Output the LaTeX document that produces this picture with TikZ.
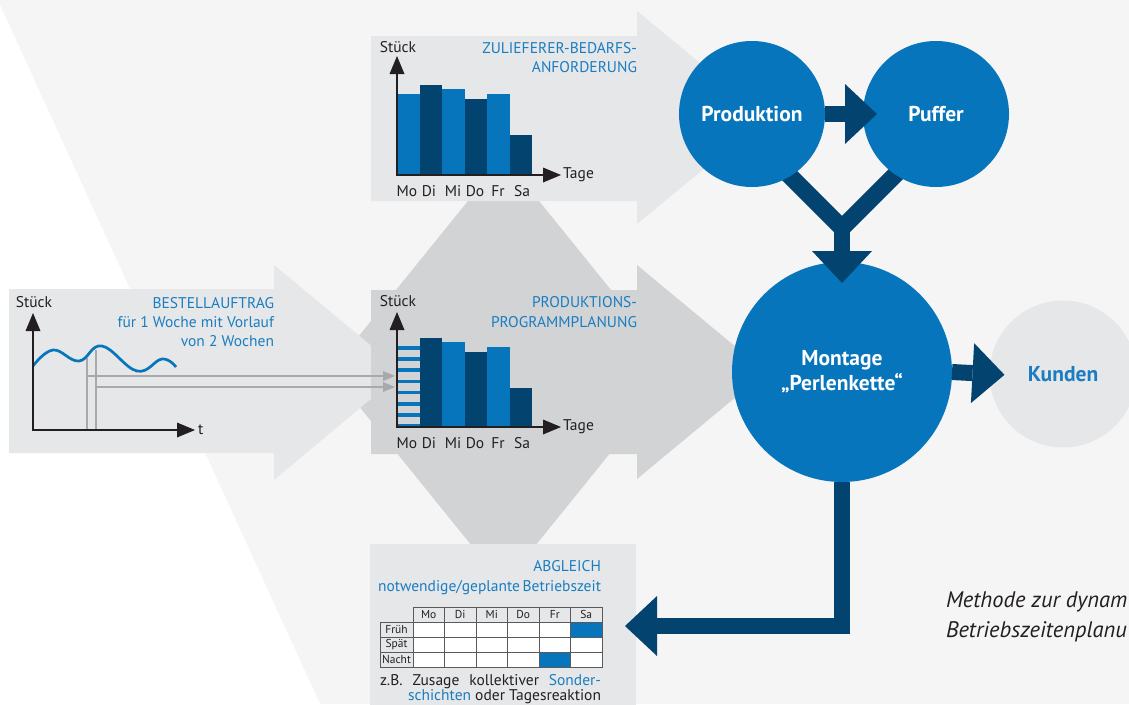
\documentclass[tikz,border=0pt]{standalone}
\usepackage{fontspec}
\setmainfont{PT Sans}
\usetikzlibrary{arrows.meta,calc}
\definecolor{bgc}{HTML}{F5F5F5}
\definecolor{lgray}{HTML}{E6E7E8}
\definecolor{mgray}{HTML}{D1D3D4}
\definecolor{cblue}{HTML}{0775BC}
\definecolor{cdark}{HTML}{03436F}
\definecolor{tblue}{HTML}{1A7DC2}
\definecolor{txt}{HTML}{231F20}
\definecolor{glc}{HTML}{A7A9AC}
\definecolor{tborder}{HTML}{595A5C}
\begin{document}
\begin{tikzpicture}[x=1pt,y=-1pt,
  every node/.style={inner sep=0pt,outer sep=0pt},
  lbl/.style={font=\fontsize{15.5}{17}\selectfont,text=txt},
  ttl/.style={font=\fontsize{15.5}{19}\selectfont,text=tblue,align=right,anchor=east},
  axisline/.style={draw=txt,line width=2.5pt,line join=miter,
    {Triangle[length=18pt,width=15pt,line width=0pt]}-{Triangle[length=18pt,width=15pt,line width=0pt]}},
  gline/.style={draw=glc,line width=1.2pt},
  garrow/.style={gline,-{Triangle[length=12pt,width=10pt,line width=0pt]}},
  circ/.style={circle,fill=cblue,text=white,font=\bfseries\fontsize{21.5}{25}\selectfont,minimum size=146pt,align=center},
  bigarr/.style={draw=cdark,line width=16pt,line join=miter,-{Triangle[length=32pt,width=60pt,line width=0pt]}},
  tcell/.style={draw=tborder,line width=0.8pt,minimum width=31.5pt,minimum height=15pt,font=\fontsize{11.5}{12}\selectfont,text=txt},
  lcell/.style={tcell,minimum width=33pt},
  dcell/.style={tcell,fill=white}
]
\useasboundingbox (0,0) rectangle (1129,704);
\clip (0,0) rectangle (1129,704);
% background
\fill[bgc] (0,0) rectangle (1129,704);
\fill[white] (0,5) -- (320,704) -- (0,704) -- cycle;
% diamond behind the middle
\fill[mgray] (503.5,157) -- (676.5,371) -- (503.5,585) -- (330.5,371) -- cycle;
% left arrow
\fill[lgray] (9,289) -- (274,289) -- (274,265) -- (403,372) -- (274,480) -- (274,453) -- (9,453) -- cycle;
% top arrow
\fill[lgray] (371,36) -- (637,36) -- (637,11) -- (766,117.5) -- (637,224) -- (637,201) -- (371,201) -- cycle;
% middle arrow
\fill[mgray] (371,290) -- (637,290) -- (637,265) -- (766,372) -- (637,479) -- (637,454) -- (371,454) -- cycle;
% bottom box
\node[fill=lgray,minimum width=266pt,minimum height=164pt,anchor=north west] (abgl) at (370,544) {};

% ---------- top chart
\foreach \x/\t/\c in {397/94/cblue,419.5/85/cdark,442/89/cblue,464.5/99/cdark,487/94/cblue,509.5/135/cdark}
  \fill[\c] (\x,\t) rectangle (\x+22.5,175);
\draw[axisline] (397,56) -- (397,175) -- (561,175);
\node[lbl] (ts) at (398,47) {Stück};
\node[ttl] (tt) at (637,57.5) {ZULIEFERER-BEDARFS-\\ANFORDERUNG};
\node[lbl,anchor=west] (ttage) at (563,175) {Tage};
\foreach \d/\x [count=\i] in {Mo/407,Di/429,Mi/453,Do/475,Fr/498,Sa/522}
  \node[lbl] (td\i) at (\x,191) {\d};

% ---------- middle chart
\foreach \k in {0,...,7}
  \fill[cblue] (397,{346+11.2*\k}) rectangle (419.5,{349.5+11.2*\k});
\foreach \x/\t/\c in {419.5/338/cdark,442/342/cblue,464.5/352/cdark,487/347/cblue,509.5/388/cdark}
  \fill[\c] (\x,\t) rectangle (\x+22.5,427);
\draw[axisline] (397,312) -- (397,427) -- (561,427);
\node[lbl] (ms) at (398,301) {Stück};
\node[ttl,font=\fontsize{15.5}{20}\selectfont] (mt) at (637,312) {PRODUKTIONS-\\PROGRAMMPLANUNG};
\node[lbl,anchor=west] (mtage) at (563,427) {Tage};
\foreach \d/\x [count=\i] in {Mo/407,Di/429,Mi/453,Do/475,Fr/498,Sa/522}
  \node[lbl] (md\i) at (\x,443) {\d};

% ---------- left chart
\draw[gline] (87,358) -- (87,430);
\draw[gline] (96,350) -- (96,430);
\draw[garrow] (87,376) -- (395,376);
\draw[garrow] (96,387) -- (395,387);
\draw[cblue,line width=2.7pt] plot[smooth,tension=0.7] coordinates {(33,366) (53,350) (79,361) (102,346) (137,371) (162,359) (176,367)};
\draw[axisline] (33,313) -- (33,430) -- (195,430);
\node[lbl] (ls) at (34,302) {Stück};
\node[ttl] (lt) at (274,322) {BESTELLAUFTRAG\\für 1 Woche mit Vorlauf\\von 2 Wochen};
\node[lbl,anchor=west] (lt2) at (198,430) {t};

% ---------- bottom box content
\node[ttl,font=\fontsize{15.5}{20}\selectfont] (bt) at (601,578) {ABGLEICH\\notwendige/geplante\,Betriebszeit};
\foreach \d [count=\i from 0] in {Mo,Di,Mi,Do,Fr,Sa}
  \node[tcell] (h\i) at ({428.75+31.5*\i},614.5) {\d};
\foreach \r/\yy/\n in {0/629.5/Früh,1/644.5/Spät,2/659.5/Nacht}{
  \node[lcell] (l\r) at (396.5,\yy) {\n};
  \foreach \c in {0,...,5}
    \node[dcell] (d\r\c) at ({428.75+31.5*\c},\yy) {};
}
\node[dcell,fill=cblue] (b1) at (586.25,629.5) {};
\node[dcell,fill=cblue] (b2) at (554.75,659.5) {};
\node[lbl,anchor=base west] (zb1) at (380,685) {\makebox[221pt][s]{z.B. Zusage kollektiver \textcolor{tblue}{Sonder-}}};
\node[lbl,anchor=base east] (zb2) at (601,700) {\textcolor{tblue}{schichten} oder Tagesreaktion};

% ---------- circles and blue connectors
\coordinate (jn) at (842,228);
\draw[cdark,line width=17pt,line join=miter] ($(jn)+(-75,-75)$) -- (jn) -- ($(jn)+(75,-75)$);
\node[circ] (prod) at (752,114) {Produktion};
\node[circ] (puffer) at (936,114) {Puffer};
\node[circ,minimum size=220pt] (mont) at (842,372) {Montage\\„Perlenkette“};
\node[circle,fill=lgray,text=tblue,font=\bfseries\fontsize{21.5}{25}\selectfont,minimum size=147pt] (kund) at (1063,374) {Kunden};
\draw[bigarr,shorten >=-14pt] (prod.east) -- (puffer.west);
\draw[bigarr,shorten >=-21pt] (jn) -- (mont.north);
\draw[bigarr,shorten >=-15pt] (mont.east) -- (kund.west);
\draw[bigarr,shorten >=-11pt] (mont.south) |- (abgl.east);

% ---------- caption
\node[anchor=west,font=\itshape\fontsize{22.5}{26}\selectfont,text=txt] (cap1) at (946,602) {Methode zur dynam};
\node[anchor=west,font=\itshape\fontsize{22.5}{26}\selectfont,text=txt] (cap2) at (946,632) {Betriebszeitenplanu};
\end{tikzpicture}
\end{document}
